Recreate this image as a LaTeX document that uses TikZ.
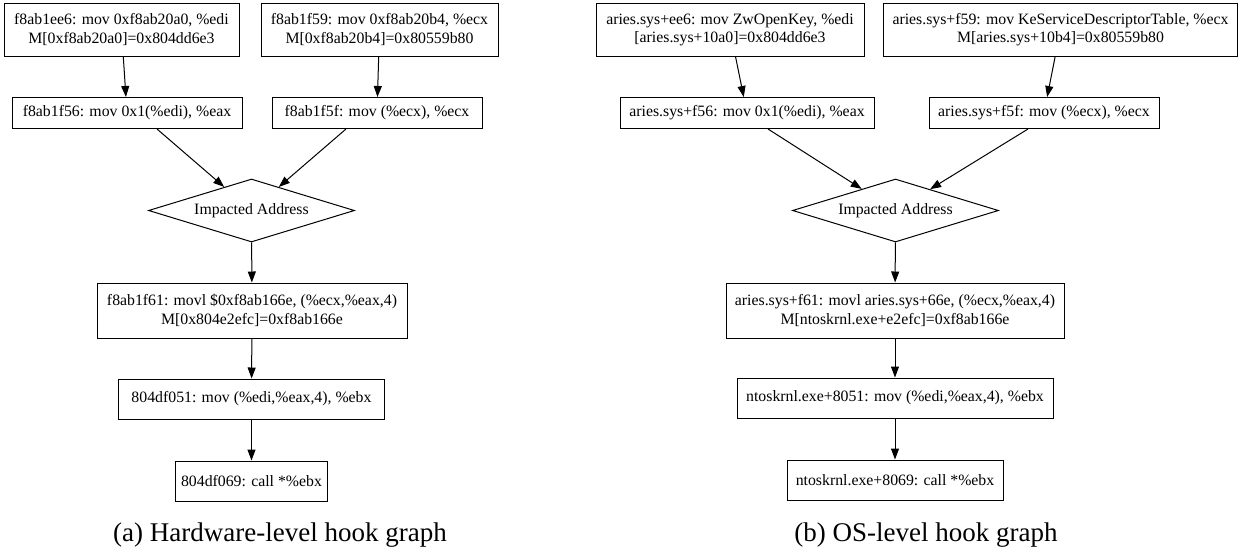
\documentclass[tikz,border=0pt]{standalone}
\usepackage{fontspec}
\setmainfont{Liberation Serif}
\usetikzlibrary{shapes.geometric,arrows.meta}
\newcommand\hgnodefont{\fontsize{15.8}{18.5}\selectfont}
\newcommand\hgcapfont{\fontsize{27}{31}\selectfont}
\begin{document}
\begin{tikzpicture}[x=1pt,y=-1pt,
  box/.style={draw, line width=1pt, rectangle, inner sep=0pt, align=center, font=\hgnodefont},
  dia/.style={draw, line width=1pt, diamond, inner sep=0pt, minimum width=206pt, minimum height=63pt, shape aspect=3.27, font=\hgnodefont},
  arr/.style={line width=1pt, -{Triangle[length=11pt,width=8pt]}},
  captext/.style={font=\hgcapfont, inner sep=0pt, anchor=base}]
\useasboundingbox (0,0) rectangle (1243,550);
% ---------- panel (a)
\node[box, minimum width=235pt, minimum height=53pt] (a1) at (121.5,29.5) {f8ab1ee6: mov 0xf8ab20a0, \%edi\\M[0xf8ab20a0]=0x804dd6e3};
\node[box, minimum width=237pt, minimum height=53pt] (b1) at (379.5,29.5) {f8ab1f59: mov 0xf8ab20b4, \%ecx\\M[0xf8ab20b4]=0x80559b80};
\node[box, minimum width=230pt, minimum height=31pt] (a2) at (127,113) {f8ab1f56: mov 0x1(\%edi), \%eax};
\node[box, minimum width=210pt, minimum height=31pt] (b2) at (377,113) {f8ab1f5f: mov (\%ecx), \%ecx};
\node[dia] (da) at (251.5,210.5) {Impacted Address};
\node[box, minimum width=310pt, minimum height=55pt] (a3) at (252,310.5) {f8ab1f61: movl \$0xf8ab166e, (\%ecx,\%eax,4)\\M[0x804e2efc]=0xf8ab166e};
\node[box, minimum width=266pt, minimum height=40pt] (a4) at (251.5,399) {804df051: mov (\%edi,\%eax,4), \%ebx};
\node[box, minimum width=152pt, minimum height=40pt] (a5) at (251.5,481) {804df069: call *\%ebx};
\node[captext] (capa) at (280,541) {(a) Hardware-level hook graph};
\draw[arr] (a1) -- (a2);
\draw[arr] (b1) -- (b2);
\draw[arr] ([xshift=30pt]a2.south) -- (da);
\draw[arr] ([xshift=-31pt]b2.south) -- (da);
\draw[arr] (da) -- (a3);
\draw[arr] (a3) -- (a4);
\draw[arr] (a4) -- (a5);
% ---------- panel (b)
\node[box, minimum width=268pt, minimum height=53pt] (p1) at (730,29.5) {aries.sys+ee6: mov ZwOpenKey, \%edi\\{}[aries.sys+10a0]=0x804dd6e3};
\node[box, minimum width=354pt, minimum height=53pt] (p2) at (1060.5,29.5) {aries.sys+f59: mov KeServiceDescriptorTable, \%ecx\\M[aries.sys+10b4]=0x80559b80};
\node[box, minimum width=254pt, minimum height=31pt] (p3) at (747,113) {aries.sys+f56: mov 0x1(\%edi), \%eax};
\node[box, minimum width=230pt, minimum height=31pt] (p4) at (1044,113) {aries.sys+f5f: mov (\%ecx), \%ecx};
\node[dia] (db) at (895.5,210.5) {Impacted Address};
\node[box, minimum width=338pt, minimum height=55pt] (q3) at (895,310.5) {aries.sys+f61: movl aries.sys+66e, (\%ecx,\%eax,4)\\M[ntoskrnl.exe+e2efc]=0xf8ab166e};
\node[box, minimum width=316pt, minimum height=40pt] (q4) at (895,398) {ntoskrnl.exe+8051: mov (\%edi,\%eax,4), \%ebx};
\node[box, minimum width=216pt, minimum height=40pt] (q5) at (895,480) {ntoskrnl.exe+8069: call *\%ebx};
\node[captext] (capb) at (926,541) {(b) OS-level hook graph};
\draw[arr] (p1) -- (p3);
\draw[arr] (p2) -- (p4);
\draw[arr] ([xshift=21pt]p3.south) -- (db);
\draw[arr] ([xshift=-16pt]p4.south) -- (db);
\draw[arr] (db) -- (q3);
\draw[arr] (q3) -- (q4);
\draw[arr] (q4) -- (q5);
\end{tikzpicture}
\end{document}
